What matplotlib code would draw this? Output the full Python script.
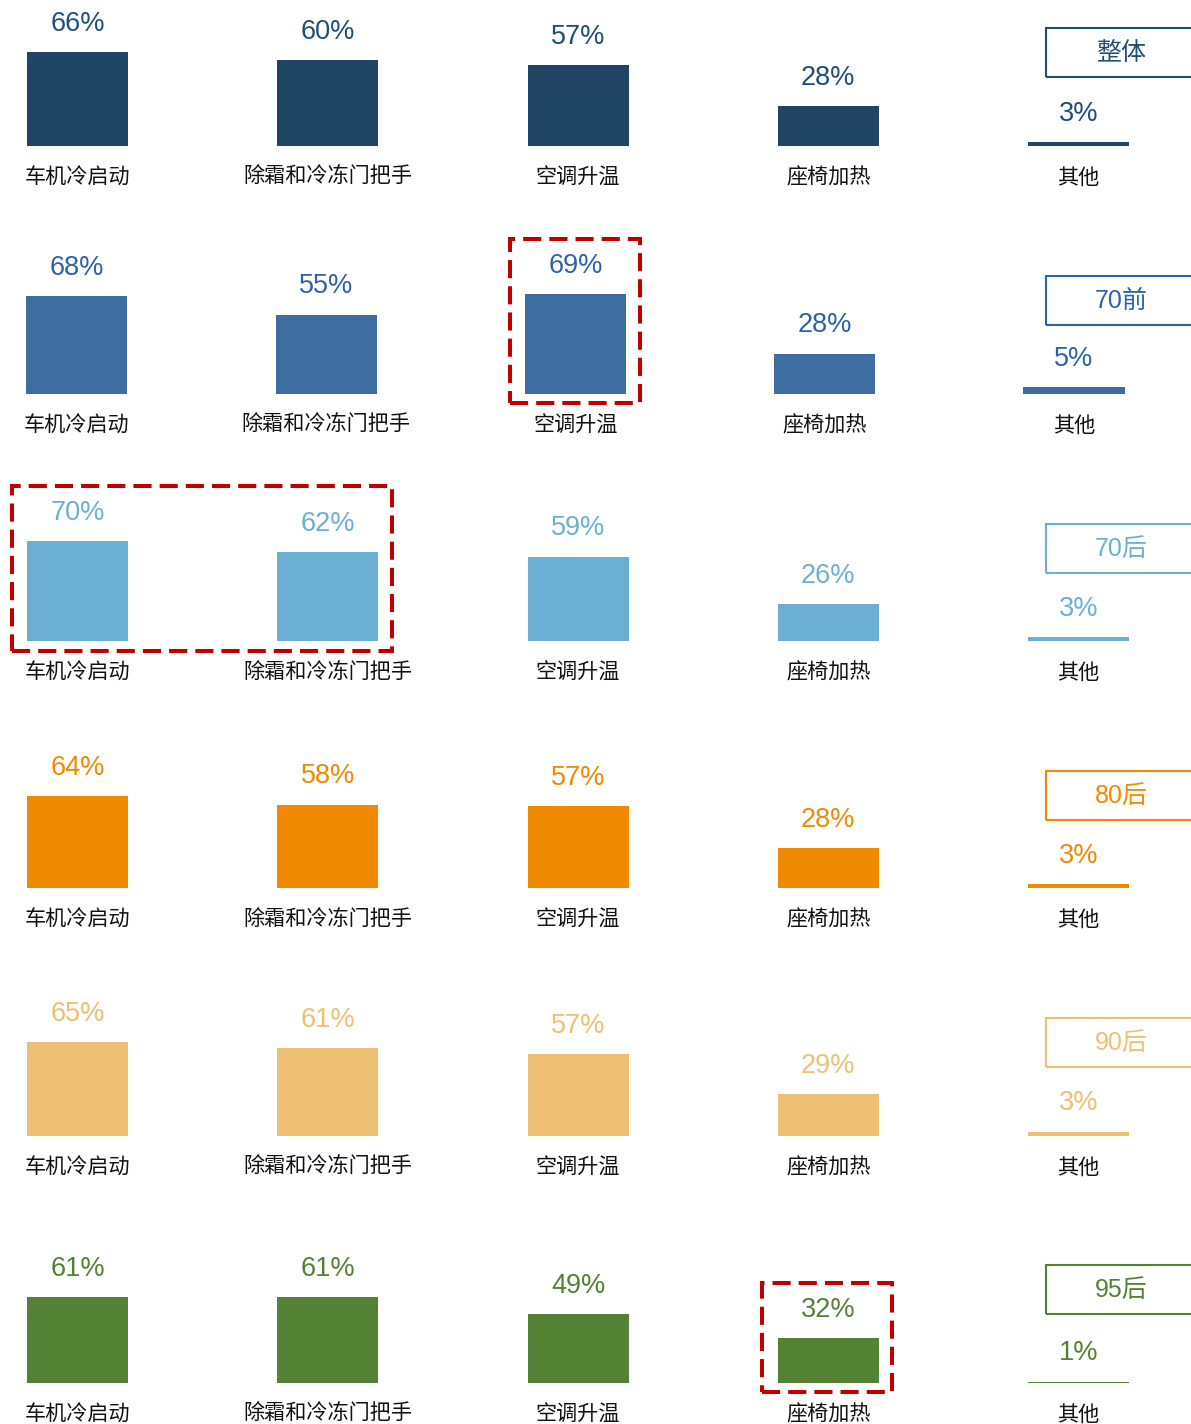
import matplotlib
matplotlib.use("Agg")
import matplotlib.pyplot as plt
from matplotlib.patches import Rectangle

# ---- data ----
categories = ["车机冷启动", "除霜和冷冻门把手", "空调升温", "座椅加热", "其他"]
groups = ["整体", "70前", "70后", "80后", "90后", "95后"]
values = [
    [66, 60, 57, 28, 3],   # 整体
    [68, 55, 69, 28, 5],   # 70前
    [70, 62, 59, 26, 3],   # 70后
    [64, 58, 57, 28, 3],   # 80后
    [65, 61, 57, 29, 3],   # 90后
    [61, 61, 49, 32, 1],   # 95后
]
bar_colors = ["#1F4464", "#3E6DA2", "#6BB0D3", "#F08A00", "#EEC074", "#538234"]
text_colors = ["#1F4E79", "#2E62A8", "#6BB0D3", "#F08A00", "#EEC074", "#538234"]
# highlighted (row, first column, last column)
highlights = [(1, 2, 2), (2, 0, 1), (5, 3, 3)]

# ---- layout (pixels) ----
W, H = 1191, 1424
baselines = [146, 394, 641.5, 888.5, 1136, 1383]
px_per_pct = [1.425, 1.445, 1.44, 1.445, 1.44, 1.41]
first_center = [77.5, 77.0, 77.5, 77.5, 77.5, 77.5]
spacing = [250.25, 249.25, 250.25, 250.25, 250.25, 250.25]
bar_w_px = 101
axes_h_px = 130

num_font = ["Liberation Sans", "Noto Sans CJK SC"]
cjk_font = ["Noto Sans CJK SC", "DejaVu Sans"]

fig = plt.figure(figsize=(W / 100, H / 100), dpi=100)
fig.patch.set_facecolor("white")

axes = []
for r, vals in enumerate(values):
    base = baselines[r]
    ax = fig.add_axes([0, 1 - base / H, 1, axes_h_px / H])
    ax.set_xlim(-first_center[r] / spacing[r], (W - first_center[r]) / spacing[r])
    ax.set_ylim(0, axes_h_px / px_per_pct[r])
    ax.axis("off")
    xs = list(range(len(categories)))
    width = bar_w_px / spacing[r]
    ax.bar(xs, vals, width=width, color=bar_colors[r], linewidth=0)
    for x, v, c in zip(xs, vals, categories):
        ax.annotate(f"{v}%", (x, v), xytext=(0, 20.3), textcoords="offset points",
                    ha="center", va="center", fontsize=19.5, color=text_colors[r],
                    family=num_font, annotation_clip=False)
        ax.annotate(c, (x, 0), xytext=(0, -22.6), textcoords="offset points",
                    ha="center", va="center", fontsize=15.2, color="#111111",
                    family=cjk_font, fontweight="medium", annotation_clip=False)
    axes.append(ax)

    # group label box on the right
    box_left, box_top, box_bot = 1046, base - 118, base - 69
    fig.add_artist(Rectangle((box_left / W, 1 - box_bot / H), 200 / W,
                             (box_bot - box_top) / H, transform=fig.transFigure,
                             fill=False, edgecolor=text_colors[r], linewidth=1.5))
    fig.text(1121 / W, 1 - (base - 93) / H, groups[r], ha="center", va="center",
             fontsize=18, color=text_colors[r], family=num_font)

# red dashed highlight frames around selected bars
for r, c0, c1 in highlights:
    base = baselines[r]
    top_val = max(values[r][c0:c1 + 1])
    to_px = lambda x: first_center[r] + x * spacing[r]
    x0 = to_px(c0) - 66
    x1 = to_px(c1) + 64
    y_top = base - top_val * px_per_pct[r] - 55
    y_bot = base + 9
    fig.add_artist(Rectangle((x0 / W, 1 - y_bot / H), (x1 - x0) / W,
                             (y_bot - y_top) / H, transform=fig.transFigure,
                             fill=False, edgecolor="#C00000", linewidth=2.9,
                             linestyle=(0, (4.5, 2))))

fig.savefig("out.png", dpi=100, facecolor="white")
